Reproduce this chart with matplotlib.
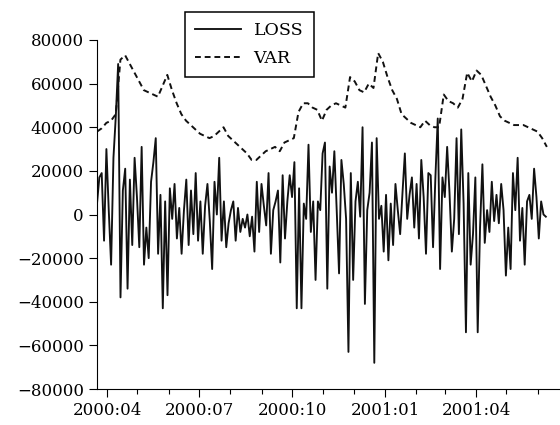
import numpy as np
import pandas as pd
import matplotlib
matplotlib.use("Agg")
import matplotlib.pyplot as plt
import matplotlib.dates as mdates

plt.rcParams['font.family'] = ['DejaVu Serif']
plt.rcParams['font.size'] = 12

# LOSS, thousands, evenly spaced observations 2000-03-22 .. 2001-06-09
loss = [5, 17, 19, -12, 30, 2, -23, 26, 45, 69,
        -38, 11, 21, -34, 16, -14, 26, 8, -15, 31,
        -23, -6, -20, 15, 24, 35, -18, 9, -43, 6,
        -37, 12, -2, 14, -11, 3, -18, 2, 16, -14,
        11, -9, 19, -12, 6, -18, 4, 14, -3, -25,
        15, 0, 26, -12, 6, -15, -4, 2, 6, -12,
        3, -8, -2, -6, 0, -10, -1, -17, 15, -8,
        14, 4, -5, 19, -18, 2, 6, 11, -22, 18,
        -11, 6, 18, 8, 24, -43, 12, -43, 5, -2,
        32, -8, 6, -30, 6, 2, 28, 33, -34, 22,
        10, 29, 2, -27, 25, 14, -2, -63, 19, -30,
        6, 15, -1, 40, -41, 2, 10, 33, -68, 35,
        -2, 4, -17, 9, -21, 5, -14, 14, 2, -9,
        10, 28, -2, 9, 17, -6, 14, -11, 25, 8,
        -18, 19, 18, -15, 17, 44, -25, 17, 8, 31,
        10, -17, -2, 35, -9, 39, 5, -54, 19, -23,
        -9, 17, -54, -6, 23, -13, 2, -8, 15, -3,
        9, -4, 14, 2, -28, -6, -25, 19, 2, 26,
        -12, 3, -23, 6, 9, -2, 21, 8, -11, 6,
        0, -1]

# VAR, thousands, evenly spaced observations 2000-03-22 .. 2001-06-10
var = [38, 39.5, 42, 43, 46, 71, 73, 69, 65, 61,
       57, 56, 55, 54, 59, 64, 57, 51, 46, 43,
       41, 39, 37, 36, 35, 36, 38, 40, 36, 34,
       32, 30, 28, 25, 25, 27, 29, 30, 31, 29,
       33, 34, 35, 47, 51, 51, 49, 48, 43, 48,
       50, 51, 50, 49, 63, 61, 57, 56, 60, 58,
       74, 70, 63, 57, 53, 46, 44, 42, 41, 40,
       43, 41, 40, 40, 55, 52, 51, 49, 53, 65,
       61, 66, 64, 59, 54, 50, 45, 43, 42, 41,
       41, 41, 40, 39, 38, 35, 31]

loss_dates = pd.date_range('2000-03-22', '2001-06-09', periods=len(loss))
var_dates = pd.date_range('2000-03-22', '2001-06-10', periods=len(var))

fig = plt.figure(figsize=(5.6, 4.25), dpi=100)
ax = fig.add_axes([97/560, 36/425, 463/560, 349/425])

ax.plot(loss_dates, np.array(loss)*1000, color='#111111', lw=1.35, label='LOSS')
ax.plot(var_dates, np.array(var)*1000, color='#111111', lw=1.4,
        linestyle=(0, (3, 2)), label='VAR')

ax.set_ylim(-80000, 80000)
ax.set_yticks(np.arange(-80000, 80001, 20000))
ax.set_xlim(pd.Timestamp('2000-03-22'), pd.Timestamp('2001-06-23'))
ax.xaxis.set_major_locator(mdates.MonthLocator(bymonth=[1, 4, 7, 10]))
ax.xaxis.set_major_formatter(mdates.DateFormatter('%Y:%m'))
ax.xaxis.set_minor_locator(mdates.MonthLocator())

ax.spines['top'].set_visible(False)
ax.spines['right'].set_visible(False)
ax.tick_params(axis='both', which='major', direction='out', length=6, width=0.8)
ax.tick_params(axis='x', which='minor', direction='out', length=3.5, width=0.8)

leg = ax.legend(loc='upper left', bbox_to_anchor=(185/560, 1-12/425),
                bbox_transform=fig.transFigure, borderaxespad=0,
                fancybox=False, edgecolor='black', framealpha=1,
                handlelength=2.6, handletextpad=0.75, borderpad=0.6,
                labelspacing=0.6, fontsize=12.5)
leg.get_frame().set_linewidth(1.1)

fig.savefig('out.png', dpi=100)
